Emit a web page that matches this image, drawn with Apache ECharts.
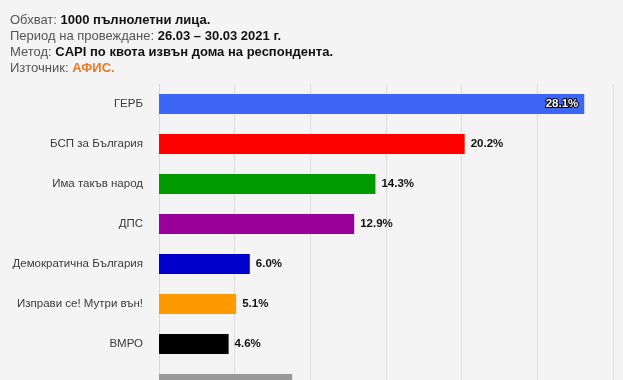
<!DOCTYPE html>
<html><head><meta charset="utf-8">
<script src="https://cdn.jsdelivr.net/npm/echarts@6/dist/echarts.min.js"></script>
<style>html,body{margin:0;padding:0;background:#f4f4f4;overflow:hidden}#c{width:623px;height:420px}</style>
</head><body><div id="c"></div>
<script>
const categories = ["ГЕРБ","БСП за България","Има такъв народ","ДПС","Демократична България","Изправи се! Мутри вън!","ВМРО","Друга партия"];
const values = [28.1, 20.2, 14.3, 12.9, 6.0, 5.1, 4.6, 8.8];
const colors = ["#3d66f5","#ff0000","#009900","#990099","#0000cc","#ff9900","#000000","#999999"];
const headerLabels = ["Обхват: ","Период на провеждане: ","Метод: ","Източник: "];
const headerValues = ["1000 пълнолетни лица.","26.03 – 30.03 2021 г.","CAPI по квота извън дома на респондента.","АФИС."];

const chart = echarts.init(document.getElementById('c'));
const headerText = headerLabels.map((l,i)=>'{n|'+l+'}{'+(i===3?'o':'b')+'|'+headerValues[i]+'}').join('\n');
const last = categories.length - 1;
chart.setOption({
  backgroundColor:'#f4f4f4',
  animation:false,
  title:{left:10,top:12,padding:0,text:headerText,textStyle:{fontWeight:'normal',rich:{
    n:{fontFamily:'Liberation Sans',fontSize:13,color:'#555',fontWeight:'normal',lineHeight:16},
    b:{fontFamily:'Liberation Sans',fontSize:13,color:'#111',fontWeight:'bold',lineHeight:16},
    o:{fontFamily:'Liberation Sans',fontSize:13,color:'#ee7722',fontWeight:'bold',lineHeight:16}
  }}},
  grid:{left:159,top:84,width:454,height:320,containLabel:false},
  xAxis:{type:'value',min:0,max:30,interval:5,
    axisLabel:{show:false},axisLine:{show:false},axisTick:{show:false},
    splitLine:{lineStyle:{color:'#dddddd',width:1}}},
  yAxis:{type:'category',inverse:true,data:categories,
    axisLine:{show:true,lineStyle:{color:'#d8d8d8'}},axisTick:{show:false},
    axisLabel:{margin:16,fontFamily:'Liberation Sans',fontSize:11.5,color:'#3a3a3a',
      formatter:(v,i)=> i===last ? '{d|'+v+'}' : v,
      rich:{d:{fontFamily:'Liberation Sans',fontSize:11.5,color:'#3a3a3a',padding:[16,0,0,0]}}}},
  series:[{type:'bar',barWidth:20,
    data:values.map((v,i)=>({value:v,itemStyle:{color:colors[i]},
      label: i===0 ? {position:'insideRight',color:'#fff',textBorderColor:'#000',textBorderWidth:2,distance:6}
           : (i===last ? {offset:[0,14]} : {})})),
    label:{show:true,position:'right',distance:6,fontFamily:'Liberation Sans',fontSize:11.5,fontWeight:'bold',color:'#111',
      formatter:p=>p.value.toFixed(1)+'%'}}]
});
</script></body></html>
